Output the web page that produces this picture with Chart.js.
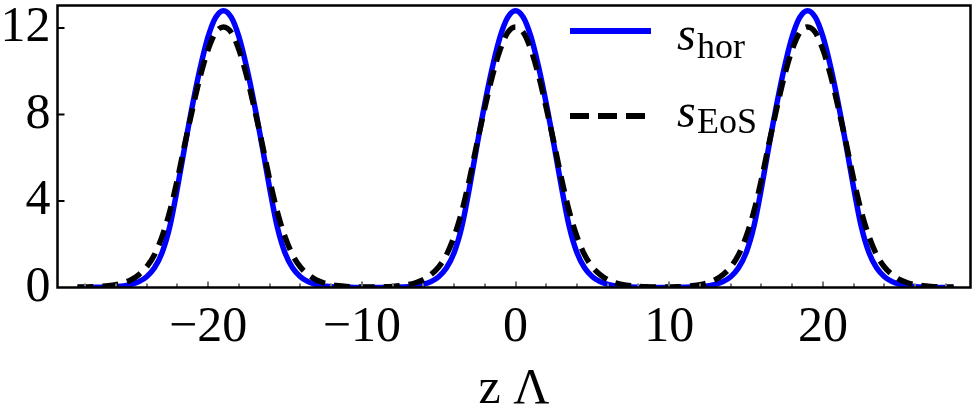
<!DOCTYPE html>
<html>
<head>
<meta charset="utf-8">
<script src="https://cdn.jsdelivr.net/npm/chart.js@4/dist/chart.umd.min.js"></script>
<style>
  html, body { margin: 0; padding: 0; background: #fff; }
  #wrap { width: 974px; height: 415px; position: relative; }
</style>
</head>
<body>
<div id="wrap"><canvas id="chart"></canvas></div>
<script>
// z Lambda samples
const zValues = [-28.5,-28,-27.5,-27,-26.5,-26,-25.5,-25,-24.5,-24,-23.5,-23,-22.5,-22,-21.5,-21,-20.5,-20,-19.5,-19,
  -18.5,-18,-17.5,-17,-16.5,-16,-15.5,-15,-14.5,-14,-13.5,-13,-12.5,-12,-11.5,-11,-10.5,-10,
  -9.5,-9,-8.5,-8,-7.5,-7,-6.5,-6,-5.5,-5,-4.5,-4,-3.5,-3,-2.5,-2,-1.5,-1,-0.5,0,
  0.5,1,1.5,2,2.5,3,3.5,4,4.5,5,5.5,6,6.5,7,7.5,8,8.5,9,
  9.5,10,10.5,11,11.5,12,12.5,13,13.5,14,14.5,15,15.5,16,16.5,17,17.5,18,18.5,19,
  19.5,20,20.5,21,21.5,22,22.5,23,23.5,24,24.5,25,25.5,26,26.5,27,27.5,28,28.5];

// s_hor (blue, solid)
const sHor = [0,0,0.005,0.01,0.02,0.04,0.07,0.14,0.27,0.5,0.9,1.6,2.8,4.6,6.6,8.5,10.2,11.6,12.5,12.8,
  12.5,11.6,10.2,8.5,6.6,4.6,2.8,1.6,0.9,0.5,0.27,0.14,0.07,0.04,0.02,0.01,0.005,0,
  0,0,0.005,0.01,0.02,0.04,0.07,0.14,0.27,0.5,0.9,1.6,2.8,4.6,6.6,8.5,10.2,11.6,12.5,12.8,
  12.5,11.6,10.2,8.5,6.6,4.6,2.8,1.6,0.9,0.5,0.27,0.14,0.07,0.04,0.02,0.01,0.005,0,
  0,0,0.005,0.01,0.02,0.04,0.07,0.14,0.27,0.5,0.9,1.6,2.8,4.6,6.6,8.5,10.2,11.6,12.5,12.8,
  12.5,11.6,10.2,8.5,6.6,4.6,2.8,1.6,0.9,0.5,0.27,0.14,0.07,0.04,0.02,0.01,0.005,0,
  0];

// s_EoS (black, dashed)
const sEoS = [0.02,0.02,0.03,0.05,0.08,0.13,0.22,0.36,0.6,0.95,1.5,2.35,3.5,5.0,6.7,8.3,9.8,11.0,11.8,12.05,
  11.8,11.0,9.8,8.3,6.7,5.0,3.5,2.35,1.5,0.95,0.6,0.36,0.22,0.13,0.08,0.05,0.03,0.02,
  0.02,0.02,0.03,0.05,0.08,0.13,0.22,0.36,0.6,0.95,1.5,2.35,3.5,5.0,6.7,8.3,9.8,11.0,11.8,12.05,
  11.8,11.0,9.8,8.3,6.7,5.0,3.5,2.35,1.5,0.95,0.6,0.36,0.22,0.13,0.08,0.05,0.03,0.02,
  0.02,0.02,0.03,0.05,0.08,0.13,0.22,0.36,0.6,0.95,1.5,2.35,3.5,5.0,6.7,8.3,9.8,11.0,11.8,12.05,
  11.8,11.0,9.8,8.3,6.7,5.0,3.5,2.35,1.5,0.95,0.6,0.36,0.22,0.13,0.08,0.05,0.03,0.02,
  0.02];

const xTicks = [-20, -10, 0, 10, 20];
const xMinorTicks = [-28,-26,-24,-22,-20,-18,-16,-14,-12,-10,-8,-6,-4,-2,0,2,4,6,8,10,12,14,16,18,20,22,24,26,28];
const yTicks = [0, 4, 8, 12];

const SERIF = "'Liberation Serif', 'DejaVu Serif', serif";

// frame, inward ticks and the legend with subscripts
const decorations = {
  id: 'decorations',
  afterDatasetsDraw(chart) {
    const { ctx, chartArea: a, scales } = chart;
    ctx.save();
    // x ticks pointing inwards
    ctx.strokeStyle = '#777';
    ctx.lineWidth = 2;
    xMinorTicks.forEach(v => {
      const px = Math.round(scales.x.getPixelForValue(v));
      const len = v % 10 === 0 ? 6 : 4;
      ctx.beginPath();
      ctx.moveTo(px, a.bottom);
      ctx.lineTo(px, a.bottom - len);
      ctx.stroke();
    });
    // y ticks
    ctx.strokeStyle = '#000';
    yTicks.forEach(v => {
      if (v === 0) return;
      const py = scales.y.getPixelForValue(v);
      ctx.beginPath();
      ctx.moveTo(a.left, py);
      ctx.lineTo(a.left + 7, py);
      ctx.stroke();
    });
    // frame
    ctx.lineWidth = 2.5;
    ctx.strokeRect(a.left, a.top, a.right - a.left, a.bottom - a.top);

    // legend
    ctx.lineWidth = 6;
    ctx.strokeStyle = '#0000ff';
    ctx.beginPath();
    ctx.moveTo(570, 31);
    ctx.lineTo(651, 31);
    ctx.stroke();
    ctx.strokeStyle = '#000';
    ctx.setLineDash([19, 9]);
    ctx.beginPath();
    ctx.moveTo(570, 116);
    ctx.lineTo(651, 116);
    ctx.stroke();
    ctx.setLineDash([]);

    ctx.fillStyle = '#000';
    ctx.textBaseline = 'alphabetic';
    ctx.textAlign = 'left';
    ctx.font = 'italic 48px ' + SERIF;
    ctx.fillText('s', 677, 50);
    ctx.fillText('s', 677, 127);
    ctx.font = '36px ' + SERIF;
    ctx.fillText('hor', 697, 58);
    ctx.fillText('EoS', 697, 133);
    ctx.restore();
  }
};

new Chart(document.getElementById('chart').getContext('2d'), {
  type: 'line',
  data: {
    datasets: [
      {
        label: 's_hor',
        data: zValues.map((z, i) => ({ x: z, y: sHor[i] })),
        borderColor: '#0000ff',
        borderWidth: 5.5,
        pointRadius: 0,
        cubicInterpolationMode: 'monotone',
        order: 1
      },
      {
        label: 's_EoS',
        data: zValues.map((z, i) => ({ x: z, y: sEoS[i] })),
        borderColor: '#000000',
        borderWidth: 5.5,
        borderDash: [16, 9],
        pointRadius: 0,
        cubicInterpolationMode: 'monotone',
        order: 0
      }
    ]
  },
  options: {
    responsive: true,
    maintainAspectRatio: false,
    animation: false,
    layout: { padding: { left: 0, right: 3.5, top: 5.5, bottom: 0 } },
    plugins: { legend: { display: false }, tooltip: { enabled: false } },
    scales: {
      x: {
        type: 'linear',
        min: -29.8,
        max: 29.6,
        afterBuildTicks: s => { s.ticks = xTicks.map(v => ({ value: v })); },
        afterFit: s => { s.height = 127.5; s.paddingLeft = 0; s.paddingRight = 0; },
        grid: { display: false, drawTicks: false },
        border: { display: false },
        ticks: {
          color: '#000',
          padding: 10,
          maxRotation: 0,
          font: { family: SERIF, size: 50 },
          callback: v => (v < 0 ? '\u2212' + Math.abs(v) : String(v))
        },
        title: {
          display: true,
          text: 'z \u039b',
          color: '#000',
          font: { family: SERIF, size: 50, lineHeight: 1 },
          padding: { top: 0, bottom: 0 }
        }
      },
      y: {
        min: 0,
        max: 13.04,
        afterBuildTicks: s => { s.ticks = yTicks.map(v => ({ value: v })); },
        afterFit: s => { s.width = 57.5; s.paddingTop = 0; s.paddingBottom = 0; },
        grid: { display: false, drawTicks: false },
        border: { display: false },
        ticks: {
          color: '#000',
          padding: 7,
          font: { family: SERIF, size: 50 }
        }
      }
    }
  },
  plugins: [decorations]
});
</script>
</body>
</html>
